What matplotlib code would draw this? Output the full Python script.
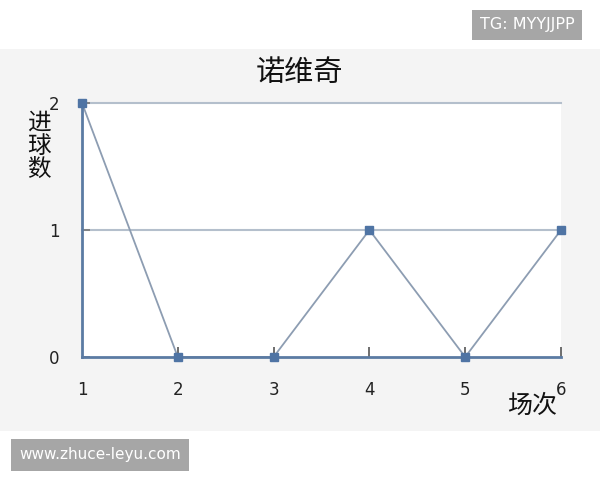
import matplotlib
matplotlib.use('Agg')
import matplotlib.pyplot as plt
from matplotlib.patches import Rectangle

plt.rcParams['font.family'] = ['Noto Sans CJK SC', 'DejaVu Sans']

# data
matches = [1, 2, 3, 4, 5, 6]
goals = [2, 0, 0, 1, 0, 1]
yticks = [0, 1, 2]
title = '诺维奇'
ylabel = '进球数'
xlabel = '场次'

W, H = 600, 480
fig = plt.figure(figsize=(6, 4.8), dpi=100)
fig.patch.set_facecolor('white')

# light grey band behind the chart
fig.patches.append(Rectangle((0, 1 - 431 / H), 1, (431 - 49) / H,
                             transform=fig.transFigure, facecolor='#f4f4f4',
                             edgecolor='none', zorder=-1))

ax = fig.add_axes([82 / W, 1 - 357 / H, (561 - 82) / W, (357 - 103) / H])
ax.set_zorder(2)
ax.set_facecolor('white')
ax.set_xlim(1, 6)
ax.set_ylim(0, 2)

for y in yticks[1:]:
    ax.axhline(y, color='#b4bfcc', lw=1.5, zorder=1, clip_on=False)

ax.plot(matches, goals, color='#8d9db2', lw=1.3, zorder=2, clip_on=False)
ax.plot(matches, goals, ls='none', marker='s', ms=6, color='#4f74a4',
        zorder=3, clip_on=False)

for s in ['top', 'right']:
    ax.spines[s].set_visible(False)
for s in ['left', 'bottom']:
    ax.spines[s].set_color('#5b7ba3')
    ax.spines[s].set_linewidth(2)

ax.set_xticks(matches)
ax.set_yticks(yticks)
ax.tick_params(axis='x', direction='in', length=7, width=1.2, color='#555555',
               labelsize=12, pad=17, labelcolor='#222222')
ax.tick_params(axis='y', direction='in', length=6, width=1.2, color='#777777',
               labelsize=12, pad=16, labelcolor='#222222')
for lab in ax.get_xticklabels() + ax.get_yticklabels():
    lab.set_family('DejaVu Sans')
ax.xaxis.get_major_ticks()[0].tick1line.set_visible(False)

fig.text(299 / W, 1 - 73 / H, title, ha='center', va='center', fontsize=21,
         color='#111111')
fig.text(39 / W, 1 - 146 / H, '\n'.join(ylabel), ha='center', va='center',
         fontsize=17, linespacing=1.02, color='#111111')
fig.text(532 / W, 1 - 406 / H, xlabel, ha='center', va='center', fontsize=18,
         color='#111111')

# watermark boxes
fig.text(527 / W, 1 - 25 / H, 'TG: MYYJJPP', ha='center', va='center',
         fontsize=11.5, color='white', family='DejaVu Sans',
         bbox=dict(boxstyle='square,pad=0.5', facecolor='#a6a6a6',
                   edgecolor='none'))
fig.text(100 / W, 1 - 455 / H, 'www.zhuce-leyu.com', ha='center', va='center',
         fontsize=11, color='white', family='DejaVu Sans',
         bbox=dict(boxstyle='square,pad=0.55', facecolor='#a6a6a6',
                   edgecolor='none'))

plt.savefig('out.png', dpi=100)
